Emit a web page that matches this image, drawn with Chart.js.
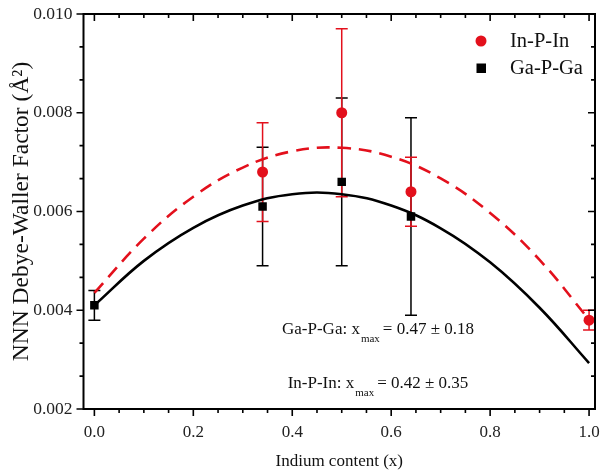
<!DOCTYPE html>
<html>
<head>
<meta charset="utf-8">
<script src="https://cdn.jsdelivr.net/npm/chart.js@4.4.1/dist/chart.umd.min.js"></script>
<style>
  html, body { margin: 0; padding: 0; background: #fff; }
  #wrap { width: 601px; height: 470px; }
</style>
</head>
<body>
<div id="wrap"><canvas id="c" width="601" height="470"></canvas></div>
<script>
// ---- data ----
const pointX      = [0.00, 0.34, 0.50, 0.64, 1.00];
const gaValues    = [0.0041, 0.0061, 0.0066, 0.0059, null];
const gaErrors    = [0.0003, 0.0012, 0.0017, 0.0020, null];
const inValues    = [null, 0.0068, 0.0080, 0.0064, 0.0038];
const inErrors    = [null, 0.0010, 0.0017, 0.0007, 0.0002];

const fitX        = [0.0, 0.1, 0.2, 0.3, 0.4, 0.5, 0.6, 0.7, 0.8, 0.9, 1.0];
const gaFitY      = [0.00410, 0.00500, 0.00567, 0.00612, 0.00635, 0.00635, 0.00612, 0.00566, 0.00497, 0.00405, 0.00293];
const inFitY      = [0.00435, 0.00545, 0.00630, 0.00689, 0.00722, 0.00729, 0.00711, 0.00667, 0.00597, 0.00502, 0.00381];

const xTickValues = [0.0, 0.2, 0.4, 0.6, 0.8, 1.0];
const xTickLabels = ['0.0', '0.2', '0.4', '0.6', '0.8', '1.0'];
const yTickValues = [0.002, 0.004, 0.006, 0.008, 0.010];
const yTickLabels = ['0.002', '0.004', '0.006', '0.008', '0.010'];

const seriesNames = ['In-P-In', 'Ga-P-Ga'];
const annotations = [
  { name: 'Ga-P-Ga', value: '0.47 ± 0.18' },
  { name: 'In-P-In', value: '0.42 ± 0.35' }
];
const xTitle = 'Indium content (x)';
const yTitle = 'NNN Debye-Waller Factor (Å²)';

// ---- styles ----
const RED = '#e3101c';
const BLACK = '#000000';
const SERIF = '"Liberation Serif", "Times New Roman", serif';

function pts(xs, ys) {
  const out = [];
  xs.forEach((x, i) => { if (ys[i] !== null) out.push({ x: x, y: ys[i] }); });
  return out;
}

const frameAndTicks = {
  id: 'frameAndTicks',
  afterDraw(chart) {
    const { ctx, chartArea: a, scales: { x, y } } = chart;
    ctx.save();
    ctx.strokeStyle = '#000';
    ctx.lineWidth = 1.6;
    const xStep = 0.05;
    for (let k = 0; k <= 20; k++) {
      const v = k * xStep;
      const px = x.getPixelForValue(v);
      const major = k % 4 === 0;
      const len = major ? 7 : 4;
      ctx.beginPath();
      ctx.moveTo(px, a.bottom); ctx.lineTo(px, a.bottom + len);
      ctx.moveTo(px, a.top); ctx.lineTo(px, a.top + len);
      ctx.stroke();
    }
    for (let k = 0; k <= 12; k++) {
      const v = 0.002 + k * (0.002 / 3);
      const py = y.getPixelForValue(v);
      const major = k % 3 === 0;
      const len = major ? 7 : 4;
      ctx.beginPath();
      ctx.moveTo(a.left, py); ctx.lineTo(a.left - len, py);
      ctx.moveTo(a.right, py); ctx.lineTo(a.right - len, py);
      ctx.stroke();
    }
    ctx.lineWidth = 2;
    ctx.strokeRect(a.left, a.top, a.right - a.left, a.bottom - a.top);

    // legend
    ctx.fillStyle = RED;
    ctx.beginPath(); ctx.arc(481, 41, 5.5, 0, Math.PI * 2); ctx.fill();
    ctx.fillStyle = BLACK;
    ctx.fillRect(476.5, 63.5, 9.5, 9.5);
    ctx.fillStyle = '#111';
    ctx.font = '20.5px ' + SERIF;
    ctx.textBaseline = 'middle';
    ctx.textAlign = 'left';
    ctx.fillText(seriesNames[0], 510, 42);
    ctx.fillText(seriesNames[1], 510, 69);

    // annotations (centred on a common axis)
    const lines = [{ center: 378, base: 334 }, { center: 378, base: 388 }];
    annotations.forEach((an, i) => {
      const by = lines[i].base;
      ctx.textBaseline = 'alphabetic';
      const head = an.name + ': x';
      const tail = '= ' + an.value;
      ctx.font = '17px ' + SERIF;
      const wHead = ctx.measureText(head).width;
      const wTail = ctx.measureText(tail).width;
      ctx.font = '11px ' + SERIF;
      const wSub = ctx.measureText('max').width;
      const total = wHead + 1 + wSub + 3 + wTail;
      let cx = lines[i].center - total / 2;
      ctx.font = '17px ' + SERIF;
      ctx.fillText(head, cx, by);
      cx += wHead + 1;
      ctx.font = '11px ' + SERIF;
      ctx.fillText('max', cx, by + 8);
      cx += wSub + 3;
      ctx.font = '17px ' + SERIF;
      ctx.fillText(tail, cx, by);
    });
    ctx.restore();
  }
};

const errorBars = {
  id: 'errorBars',
  beforeDatasetsDraw(chart) {
    const { ctx, scales: { x, y } } = chart;
    ctx.save();
    ctx.lineWidth = 1.5;
    const draw = (vals, errs, color) => {
      ctx.strokeStyle = color;
      pointX.forEach((xv, i) => {
        if (vals[i] === null) return;
        const px = x.getPixelForValue(xv);
        const top = y.getPixelForValue(vals[i] + errs[i]);
        const bot = y.getPixelForValue(vals[i] - errs[i]);
        ctx.beginPath();
        ctx.moveTo(px, top); ctx.lineTo(px, bot);
        ctx.moveTo(px - 6, top); ctx.lineTo(px + 6, top);
        ctx.moveTo(px - 6, bot); ctx.lineTo(px + 6, bot);
        ctx.stroke();
      });
    };
    draw(gaValues, gaErrors, BLACK);
    draw(inValues, inErrors, RED);
    ctx.restore();
  }
};

new Chart(document.getElementById('c'), {
  type: 'scatter',
  data: {
    datasets: [
      { label: 'In-P-In', data: pts(pointX, inValues), backgroundColor: RED, borderColor: RED,
        pointStyle: 'circle', pointRadius: 5.5, borderWidth: 0, showLine: false, order: 0 },
      { label: 'Ga-P-Ga', data: pts(pointX, gaValues), backgroundColor: BLACK, borderColor: BLACK,
        pointStyle: 'rect', pointRadius: 6, borderWidth: 0, showLine: false, order: 1 },
      { label: 'In fit', data: pts(fitX, inFitY), borderColor: RED, borderWidth: 2.6,
        borderDash: [13, 8], pointRadius: 0, showLine: true, tension: 0.4, fill: false, order: 2 },
      { label: 'Ga fit', data: pts(fitX, gaFitY), borderColor: BLACK, borderWidth: 2.6,
        pointRadius: 0, showLine: true, tension: 0.4, fill: false, order: 3 }
    ]
  },
  options: {
    responsive: false,
    animation: false,
    devicePixelRatio: 1,
    layout: { padding: { top: 14, right: 4, left: 0, bottom: 0 } },
    plugins: { legend: { display: false }, tooltip: { enabled: false } },
    scales: {
      x: {
        type: 'linear', min: -0.022, max: 1.012,
        grid: { display: false, drawTicks: false },
        border: { display: false },
        afterBuildTicks: s => { s.ticks = xTickValues.map(v => ({ value: v })); },
        afterFit: s => { s.height = 61; s.paddingLeft = 0; s.paddingRight = 0; },
        ticks: {
          autoSkip: false, maxRotation: 0, padding: 13, color: '#222',
          font: { family: SERIF, size: 17, lineHeight: 1.2 },
          callback: (v) => { const i = xTickValues.findIndex(t => Math.abs(t - v) < 1e-9); return i >= 0 ? xTickLabels[i] : ''; }
        },
        title: { display: true, text: xTitle, color: '#111', padding: { top: 0, bottom: 0 },
          font: { family: SERIF, size: 17, lineHeight: 1.0 } }
      },
      y: {
        type: 'linear', min: 0.002, max: 0.010,
        grid: { display: false, drawTicks: false },
        border: { display: false },
        afterBuildTicks: s => { s.ticks = yTickValues.map(v => ({ value: v })); },
        afterFit: s => { s.width = 83.5; s.paddingTop = 0; s.paddingBottom = 0; },
        ticks: {
          autoSkip: false, padding: 11, color: '#222',
          font: { family: SERIF, size: 17.5, lineHeight: 1.2 },
          callback: (v) => { const i = yTickValues.findIndex(t => Math.abs(t - v) < 1e-9); return i >= 0 ? yTickLabels[i] : ''; }
        },
        title: { display: true, text: yTitle, color: '#111', padding: { top: 8, bottom: 0 },
          font: { family: SERIF, size: 23.5, lineHeight: 1.2 } }
      }
    }
  },
  plugins: [errorBars, frameAndTicks]
});
</script>
</body>
</html>
